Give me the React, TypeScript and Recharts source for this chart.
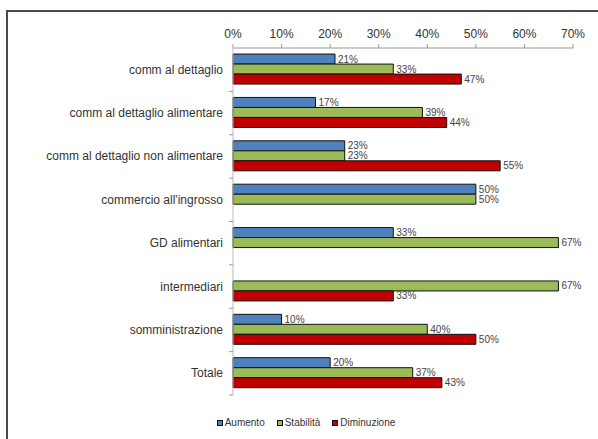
import { Bar, BarChart, LabelList, XAxis, YAxis } from "recharts";

const categories = [
  "comm al dettaglio",
  "comm al dettaglio alimentare",
  "comm al dettaglio non alimentare",
  "commercio all'ingrosso",
  "GD alimentari",
  "intermediari",
  "somministrazione",
  "Totale",
];
const aumento = [21, 17, 23, 50, 33, null, 10, 20];
const stabilita = [33, 39, 23, 50, 67, 67, 40, 37];
const diminuzione = [47, 44, 55, null, null, 33, 50, 43];
const xTicks = [0, 10, 20, 30, 40, 50, 60, 70];

const SERIES = [
  { key: "aumento", label: "Aumento", color: "#4F81BD" },
  { key: "stabilita", label: "Stabilità", color: "#9BBB59" },
  { key: "diminuzione", label: "Diminuzione", color: "#C00000" },
];

const data = categories.map((name, i) => ({
  name,
  aumento: aumento[i],
  stabilita: stabilita[i],
  diminuzione: diminuzione[i],
}));

const W = 598;
const H = 439;
const MARGIN = { top: 8, right: 25, bottom: 44, left: 0 };
const X_AXIS_H = 40;
const BAND = (H - MARGIN.top - MARGIN.bottom - X_AXIS_H) / categories.length;
const FONT = "'Liberation Sans', Arial, sans-serif";

function CategoryTick(props: any) {
  const { x, y, payload } = props;
  return (
    <g>
      <text
        x={x}
        y={y}
        dy={4}
        textAnchor="end"
        fontSize={12}
        fontFamily={FONT}
        fill="#333"
      >
        {payload.value}
      </text>
      <line
        x1={x + 6}
        x2={x + 10}
        y1={y + BAND / 2}
        y2={y + BAND / 2}
        stroke="#999"
      />
    </g>
  );
}

const pct = (v: any) => (v == null ? "" : `${v}%`);

export default function App() {
  return (
    <div
      style={{
        position: "absolute",
        left: 0,
        top: 0,
        width: W,
        height: H,
        background: "#fff",
        overflow: "hidden",
      }}
    >
      <div
        style={{
          position: "absolute",
          left: 6,
          top: 10,
          width: W + 20,
          height: H + 20,
          borderLeft: "2px solid #4a4a4a",
          borderTop: "2px solid #4a4a4a",
        }}
      />
      <div style={{ position: "absolute", left: 0, top: 0 }}>
        <BarChart
          width={W}
          height={H}
          data={data}
          layout="vertical"
          margin={MARGIN}
          barCategoryGap="14%"
          barGap={0}
        >
          <XAxis
            type="number"
            orientation="top"
            domain={[0, 70]}
            ticks={xTicks}
            height={X_AXIS_H}
            tickFormatter={(v) => `${v}%`}
            tick={{ fill: "#333", fontSize: 12, fontFamily: FONT }}
            tickSize={4}
            tickMargin={6}
            axisLine={{ stroke: "#999" }}
            tickLine={{ stroke: "#999" }}
          />
          <YAxis
            type="category"
            dataKey="name"
            width={233}
            tickSize={0}
            tickMargin={10}
            tick={<CategoryTick />}
            axisLine={{ stroke: "#bbb" }}
            tickLine={false}
            interval={0}
          />
          {SERIES.map((s) => (
            <Bar
              key={s.key}
              dataKey={s.key}
              fill={s.color}
              stroke="#111"
              strokeWidth={1}
              isAnimationActive={false}
            >
              <LabelList
                dataKey={s.key}
                position="right"
                offset={3}
                formatter={pct}
                style={{ fontSize: 10, fontFamily: FONT, fill: "#444" }}
              />
            </Bar>
          ))}
        </BarChart>
      </div>
      <div
        style={{
          position: "absolute",
          left: 0,
          width: W + 14,
          top: 417,
          display: "flex",
          justifyContent: "center",
          gap: 12,
          fontFamily: FONT,
          fontSize: 10,
          color: "#333",
        }}
      >
        {SERIES.map((s) => (
          <span key={s.key} style={{ display: "inline-flex", alignItems: "center" }}>
            <span
              style={{
                width: 6,
                height: 6,
                background: s.color,
                border: "1px solid #111",
                marginRight: 2,
                boxSizing: "border-box",
              }}
            />
            {s.label}
          </span>
        ))}
      </div>
    </div>
  );
}
